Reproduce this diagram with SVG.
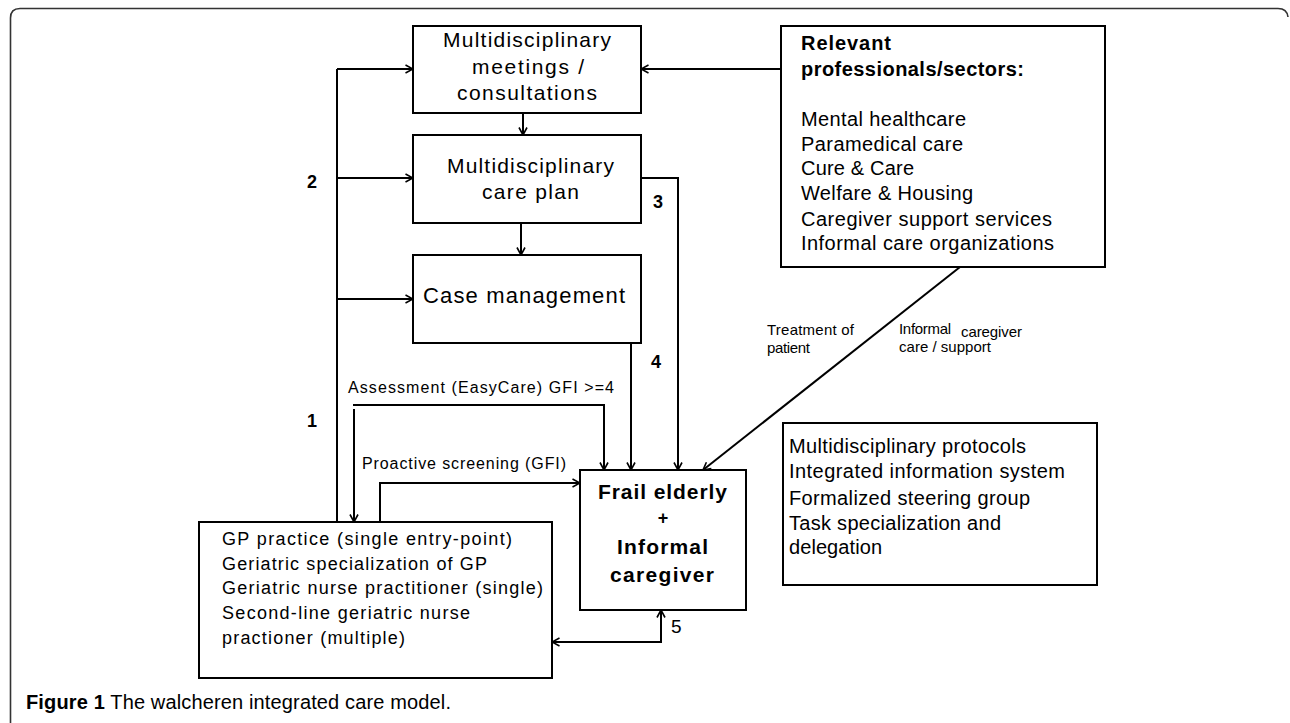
<svg xmlns="http://www.w3.org/2000/svg" width="1290" height="723" viewBox="0 0 1290 723">
<style>
  .box { fill: #fff; stroke: #000; stroke-width: 2; }
  .t { font-family: "Liberation Sans", Arial, sans-serif; fill: #000; }
  .b { font-weight: bold; }
  .c { fill: none; stroke: #000; stroke-width: 2; }
  .lbl { font-family: "Liberation Sans", Arial, sans-serif; font-weight: bold; font-size: 18px; fill: #000; }
</style>
<defs>
  <marker id="ah" viewBox="0 0 10 10" refX="9" refY="5" markerWidth="10" markerHeight="10" markerUnits="userSpaceOnUse" orient="auto-start-reverse">
    <path d="M1.5,1 L9,5 L1.5,9" fill="none" stroke="#000" stroke-width="1.6"/>
  </marker>
</defs>
<rect width="1290" height="723" fill="#fff"/>
<path id="frame" d="M10.5,723 L10.5,18 Q10.5,8.5 20,8.5 L1278,8.5 Q1287,8.5 1288,17" fill="none" stroke="#333" stroke-width="1.6"/>

<g id="connectors">
  <path class="c" d="M337,522 V69"/>
  <path class="c" d="M337,69 H413" marker-end="url(#ah)"/>
  <path class="c" d="M337,178 H413" marker-end="url(#ah)"/>
  <path class="c" d="M337,299 H413" marker-end="url(#ah)"/>
  <path class="c" d="M523,113 V135" marker-end="url(#ah)"/>
  <path class="c" d="M521,223 V255" marker-end="url(#ah)"/>
  <path class="c" d="M781,69 H641" marker-end="url(#ah)"/>
  <path class="c" d="M641,178 H678 V470" marker-end="url(#ah)"/>
  <path class="c" d="M631,343 V470" marker-end="url(#ah)"/>
  <path class="c" d="M353,405 H604 V470" marker-end="url(#ah)"/>
  <path class="c" d="M354,409 V522" stroke="#444" stroke-width="2.2" marker-end="url(#ah)"/>
  <path class="c" d="M380,522 V483 H580" marker-end="url(#ah)"/>
  <path class="c" d="M960,267 L703,470" marker-end="url(#ah)"/>
  <path class="c" d="M552,642 H661 V610" marker-start="url(#ah)" marker-end="url(#ah)"/>
  <text class="lbl" x="307" y="188">2</text>
  <text class="lbl" x="307" y="427">1</text>
  <text class="lbl" x="653" y="208">3</text>
  <text class="lbl" x="651" y="368">4</text>
  <text class="t" x="671" y="633" font-size="19">5</text>
  <text class="t" font-size="15" x="767" y="335" textLength="87" lengthAdjust="spacing">Treatment of</text>
  <text class="t" font-size="15" x="767" y="353" textLength="43" lengthAdjust="spacing">patient</text>
  <text class="t" font-size="15" x="899" y="334" textLength="52" lengthAdjust="spacing">Informal</text>
  <text class="t" font-size="15" x="961" y="337" textLength="61" lengthAdjust="spacing">caregiver</text>
  <text class="t" font-size="15" x="899" y="352" textLength="92" lengthAdjust="spacing">care / support</text>
  <text class="t" font-size="16" x="348" y="393" textLength="266" lengthAdjust="spacing">Assessment (EasyCare) GFI &gt;=4</text>
  <text class="t" font-size="16" x="362" y="469" textLength="204" lengthAdjust="spacing">Proactive screening (GFI)</text>
</g>

<g id="n-meetings">
  <rect class="box" x="413" y="26" width="228" height="87"/>
  <text class="t" font-size="21" x="443" y="47" textLength="168" lengthAdjust="spacing">Multidisciplinary</text>
  <text class="t" font-size="21" x="472" y="74" textLength="112" lengthAdjust="spacing">meetings /</text>
  <text class="t" font-size="21" x="457" y="100" textLength="140" lengthAdjust="spacing">consultations</text>
</g>

<g id="n-careplan">
  <rect class="box" x="413" y="135" width="228" height="88"/>
  <text class="t" font-size="21" x="447" y="173" textLength="167" lengthAdjust="spacing">Multidisciplinary</text>
  <text class="t" font-size="21" x="482" y="199" textLength="97" lengthAdjust="spacing">care plan</text>
</g>

<g id="n-casemgmt">
  <rect class="box" x="413" y="255" width="228" height="88"/>
  <text class="t" font-size="22" x="423" y="303" textLength="202" lengthAdjust="spacing">Case management</text>
</g>

<g id="n-professionals">
  <rect class="box" x="781" y="26" width="324" height="241"/>
  <text class="t b" font-size="20" x="801" y="50" textLength="90" lengthAdjust="spacing">Relevant</text>
  <text class="t b" font-size="20" x="801" y="76" textLength="223" lengthAdjust="spacing">professionals/sectors:</text>
  <text class="t" font-size="20" x="801" y="126" textLength="165" lengthAdjust="spacing">Mental healthcare</text>
  <text class="t" font-size="20" x="801" y="151" textLength="162" lengthAdjust="spacing">Paramedical care</text>
  <text class="t" font-size="20" x="801" y="175" textLength="113" lengthAdjust="spacing">Cure &amp; Care</text>
  <text class="t" font-size="20" x="801" y="200" textLength="172" lengthAdjust="spacing">Welfare &amp; Housing</text>
  <text class="t" font-size="20" x="801" y="226" textLength="251" lengthAdjust="spacing">Caregiver support services</text>
  <text class="t" font-size="20" x="801" y="250" textLength="253" lengthAdjust="spacing">Informal care organizations</text>
</g>

<g id="n-frail">
  <rect class="box" x="580" y="470" width="166" height="140"/>
  <text class="t b" font-size="21" x="598" y="499" textLength="129" lengthAdjust="spacing">Frail elderly</text>
  <text class="t b" font-size="18" x="663" y="524" text-anchor="middle">+</text>
  <text class="t b" font-size="21" x="617" y="554" textLength="91" lengthAdjust="spacing">Informal</text>
  <text class="t b" font-size="21" x="610" y="582" textLength="104" lengthAdjust="spacing">caregiver</text>
</g>

<g id="n-gp">
  <rect class="box" x="199" y="522" width="353" height="156"/>
  <text class="t" font-size="18" x="222" y="545" textLength="290" lengthAdjust="spacing">GP practice (single entry-point)</text>
  <text class="t" font-size="18" x="222" y="569.5" textLength="265" lengthAdjust="spacing">Geriatric specialization of GP</text>
  <text class="t" font-size="18" x="222" y="594" textLength="321" lengthAdjust="spacing">Geriatric nurse practitioner (single)</text>
  <text class="t" font-size="18" x="222" y="619" textLength="248" lengthAdjust="spacing">Second-line geriatric nurse</text>
  <text class="t" font-size="18" x="222" y="644" textLength="183" lengthAdjust="spacing">practioner (multiple)</text>
</g>

<g id="n-protocols">
  <rect class="box" x="783" y="423" width="314" height="162"/>
  <text class="t" font-size="20" x="789" y="453" textLength="237" lengthAdjust="spacing">Multidisciplinary protocols</text>
  <text class="t" font-size="20" x="789" y="478" textLength="276" lengthAdjust="spacing">Integrated information system</text>
  <text class="t" font-size="20" x="789" y="505" textLength="241" lengthAdjust="spacing">Formalized steering group</text>
  <text class="t" font-size="20" x="789" y="530" textLength="212" lengthAdjust="spacing">Task specialization and</text>
  <text class="t" font-size="20" x="789" y="554" textLength="93" lengthAdjust="spacing">delegation</text>
</g>

<text id="caption" class="t" font-size="20" x="26" y="709" fill="#231f20" textLength="425" lengthAdjust="spacing"><tspan font-weight="bold">Figure 1</tspan> The walcheren integrated care model.</text>
</svg>
